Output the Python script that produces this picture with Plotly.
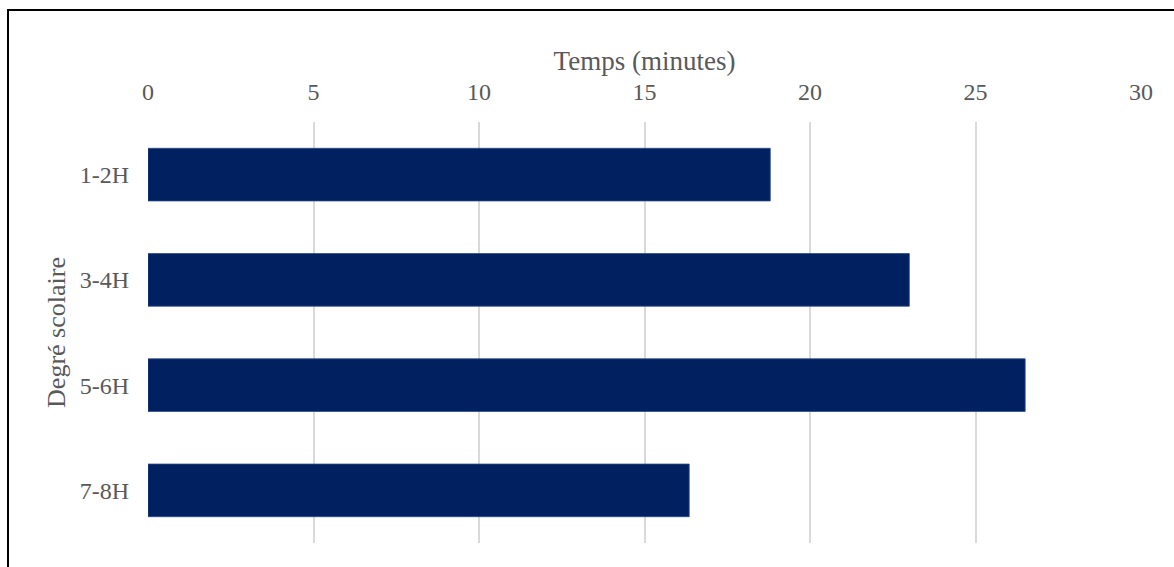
import plotly.graph_objects as go

# Temps moyen par degré scolaire
degres = ["1-2H", "3-4H", "5-6H", "7-8H"]
temps_minutes = [18.8, 23.0, 26.5, 16.35]
x_ticks = [0, 5, 10, 15, 20, 25, 30]

FONT = "Liberation Serif, Times New Roman, serif"
GREY_TEXT = "#595959"

fig = go.Figure(
    go.Bar(
        x=temps_minutes,
        y=degres,
        orientation="h",
        width=0.5,
        marker=dict(color="#002060", line=dict(color="#2a4a86", width=0.8)),
    )
)

fig.update_layout(
    width=1174,
    height=567,
    margin=dict(l=148, r=33, t=122, b=24),
    paper_bgcolor="white",
    plot_bgcolor="white",
    showlegend=False,
    font=dict(family=FONT, size=24, color=GREY_TEXT),
    xaxis=dict(
        side="top",
        range=[0, 30],
        tickvals=x_ticks,
        ticktext=[str(v) for v in x_ticks],
        showgrid=True,
        gridcolor="#d9d9d9",
        gridwidth=1.5,
        zeroline=False,
        showline=False,
        ticklabelstandoff=16,
        title=dict(text="Temps (minutes)", standoff=0, font=dict(size=27)),
    ),
    yaxis=dict(
        categoryorder="array",
        categoryarray=degres,
        autorange="reversed",
        showgrid=False,
        zeroline=False,
        showline=False,
        ticklabelstandoff=18,
        title=dict(text="Degré scolaire", standoff=6, font=dict(size=26)),
    ),
    shapes=[
        dict(
            type="rect",
            xref="paper",
            yref="paper",
            x0=(8 - 148) / 993,
            x1=1.2,
            y0=-0.3,
            y1=1 + (122 - 10) / 421,
            line=dict(color="black", width=2),
            fillcolor="rgba(0,0,0,0)",
            layer="below",
        )
    ],
)

fig.write_html("out.html")
